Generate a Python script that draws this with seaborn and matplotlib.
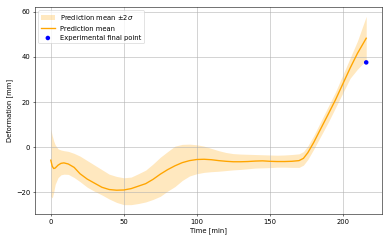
import matplotlib
matplotlib.use("Agg")
import matplotlib.pyplot as plt
import seaborn as sns
import pandas as pd
import numpy as np

# Time axis [min] and prediction values [mm]
time_min = [0, 1, 2, 3, 5, 7, 9, 12, 16, 20, 25, 30, 35, 40, 45, 50, 55, 60,
            65, 70, 75, 80, 85, 90, 95, 100, 105, 110, 115, 120, 125, 130,
            135, 140, 145, 150, 155, 160, 165, 170, 173, 176, 180, 185, 190,
            195, 200, 205, 210, 216]
mean_mm = [-5.8, -8.5, -9.5, -9.3, -8.0, -7.2, -7.0, -7.5, -9.0, -11.8, -14.2,
           -16.0, -17.8, -18.8, -19.1, -19.0, -18.4, -17.3, -16.2, -14.3,
           -12.0, -10.0, -8.3, -6.9, -6.0, -5.5, -5.4, -5.6, -6.0, -6.3, -6.5,
           -6.5, -6.4, -6.2, -6.1, -6.3, -6.4, -6.4, -6.3, -6.0, -5.0, -2.5,
           2.0, 8.3, 14.6, 21.0, 28.0, 35.0, 41.5, 48.2]
upper_mm = [7.9, 5.0, 2.7, 1.0, -0.8, -1.3, -1.6, -1.9, -2.8, -4.0, -6.0,
            -8.0, -10.0, -12.0, -13.0, -13.6, -13.3, -11.8, -10.2, -7.5,
            -4.5, -2.0, 0.4, 1.2, 1.3, 1.0, 0.4, -0.6, -1.6, -2.4, -2.9, -3.1,
            -3.2, -3.3, -3.4, -3.5, -3.6, -3.5, -3.3, -3.0, -2.0, 0.5, 5.0,
            11.5, 18.0, 24.5, 32.0, 39.5, 47.0, 57.9]
lower_mm = [-21.8, -22.5, -20.0, -16.5, -13.5, -12.3, -12.0, -12.1, -13.5,
            -15.3, -17.8, -19.6, -21.2, -23.0, -24.5, -25.5, -25.5, -25.0,
            -24.3, -23.2, -21.8, -19.5, -17.5, -14.8, -12.8, -11.8, -11.2,
            -10.9, -10.7, -10.4, -10.1, -9.9, -9.6, -9.3, -9.2, -9.1, -8.9,
            -8.9, -9.0, -9.0, -8.0, -5.5, -1.0, 5.0, 11.0, 17.5, 24.0, 30.5,
            34.5, 38.5]

# Experimental final measurement
exp_time = [216]
exp_def = [37.5]

pred = pd.DataFrame({'time': time_min, 'mean': mean_mm,
                     'upper': upper_mm, 'lower': lower_mm})
exp = pd.DataFrame({'time': exp_time, 'deformation': exp_def})

fig, ax = plt.subplots(figsize=(8, 5), dpi=48.625)

ax.fill_between(pred['time'], pred['lower'], pred['upper'],
                color='orange', alpha=0.25, linewidth=0,
                label=r'Prediction mean $\pm 2\sigma$')
sns.lineplot(data=pred, x='time', y='mean', ax=ax, color='orange',
             linewidth=2, label='Prediction mean')
sns.scatterplot(data=exp, x='time', y='deformation', ax=ax, color='blue',
                s=45, edgecolor='none', label='Experimental final point')

ax.set_xlabel('Time [min]')
ax.set_ylabel('Deformation [mm]')
ax.grid(True)
ax.legend(loc='upper left')

plt.subplots_adjust(left=0.09, right=0.982, top=0.971, bottom=0.119)
plt.savefig('out.png', dpi=48.625)
plt.close()
